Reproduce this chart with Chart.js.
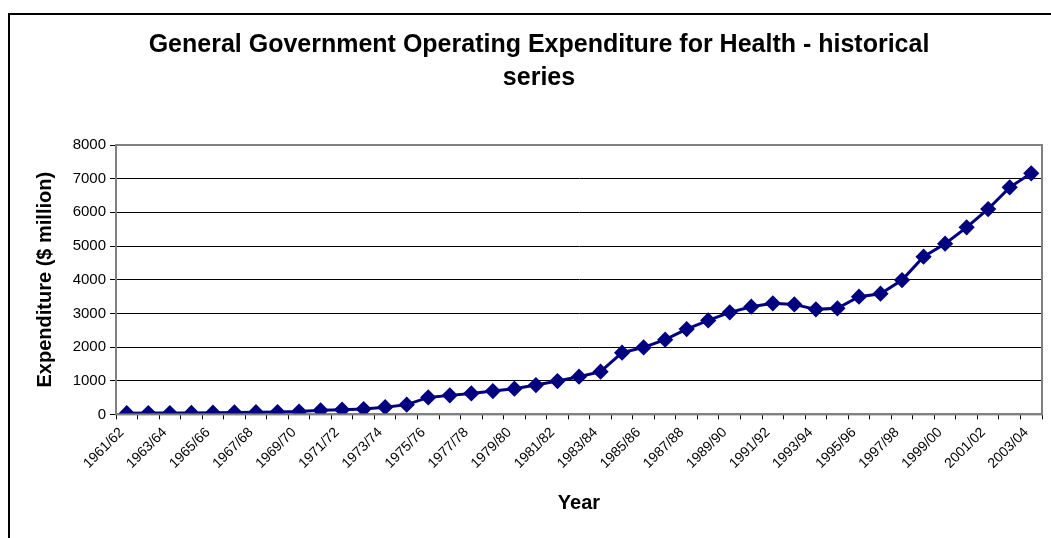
<!DOCTYPE html>
<html>
<head>
<meta charset="utf-8">
<script src="https://cdn.jsdelivr.net/npm/chart.js@4/dist/chart.umd.min.js"></script>
<style>
  html, body { margin: 0; padding: 0; background: #fff; overflow: hidden; }
  #wrap { position: relative; width: 1051px; height: 538px; }
  #frame { position: absolute; left: 8px; top: 13px; width: 1060px; height: 540px;
           border-left: 2px solid #000; border-top: 2px solid #000; box-sizing: border-box; }
  canvas { position: absolute; left: 0; top: 0; }
</style>
</head>
<body>
<div id="wrap">
  <div id="frame"></div>
  <canvas id="chart" width="1051" height="538"></canvas>
</div>
<script>
// years shown on the x axis (financial years)
const years = [
  "1961/62", "1962/63", "1963/64", "1964/65", "1965/66", "1966/67", "1967/68", "1968/69",
  "1969/70", "1970/71", "1971/72", "1972/73", "1973/74", "1974/75", "1975/76", "1976/77",
  "1977/78", "1978/79", "1979/80", "1980/81", "1981/82", "1982/83", "1983/84", "1984/85",
  "1985/86", "1986/87", "1987/88", "1988/89", "1989/90", "1990/91", "1991/92", "1992/93",
  "1993/94", "1994/95", "1995/96", "1996/97", "1997/98", "1998/99", "1999/00", "2000/01",
  "2001/02", "2002/03", "2003/04"
];

// expenditure, $ million
const expenditure = [
  35, 38, 40, 42, 50, 60, 65, 70,
  85, 120, 140, 160, 215, 290, 505, 565,
  624, 693, 762, 871, 990, 1119, 1267, 1832,
  1990, 2218, 2535, 2792, 3030, 3198, 3297, 3267,
  3119, 3149, 3495, 3584, 3990, 4683, 5069, 5554,
  6099, 6743, 7158
];

const yTicks = [0, 1000, 2000, 3000, 4000, 5000, 6000, 7000, 8000];

const titleLines = ["General Government Operating Expenditure for Health - historical", "series"];

// grey box round the plot area
const plotBorder = {
  id: "plotBorder",
  afterDraw(chart) {
    const a = chart.chartArea;
    const ctx = chart.ctx;
    ctx.save();
    ctx.strokeStyle = "#808080";
    ctx.lineWidth = 2;
    ctx.strokeRect(a.left, a.top, a.right - a.left, a.bottom - a.top);
    ctx.restore();
  }
};

Chart.defaults.font.family = "'Liberation Sans', Arial, sans-serif";
Chart.defaults.color = "#000";

new Chart(document.getElementById("chart"), {
  type: "line",
  data: {
    labels: years,
    datasets: [{
      label: "Expenditure",
      data: expenditure,
      borderColor: "#000080",
      backgroundColor: "#000080",
      borderWidth: 3,
      pointStyle: "rectRot",
      pointRadius: 6,
      pointHoverRadius: 6,
      tension: 0
    }]
  },
  options: {
    responsive: false,
    animation: false,
    layout: { padding: { left: 31, right: 4, top: 0, bottom: 21 } },
    plugins: {
      legend: { display: false },
      tooltip: { enabled: false },
      title: {
        display: true,
        text: titleLines,
        font: { size: 25, weight: "bold", lineHeight: 1.32 },
        color: "#000",
        padding: { top: 29, bottom: 50 }
      }
    },
    scales: {
      x: {
        offset: true,
        grid: { offset: true, drawOnChartArea: false, color: "#000", tickLength: 5 },
        border: { color: "#808080", width: 2 },
        ticks: {
          autoSkip: false,
          minRotation: 45,
          maxRotation: 45,
          padding: 5,
          labelOffset: -5,
          font: { size: 14 },
          callback: (v, i) => (i % 2 === 0 ? years[i] : "")
        },
        title: { display: true, text: "Year", font: { size: 20, weight: "bold" }, padding: { top: 2, bottom: 2 } },
        afterFit(scale) { scale.height = 102.6; }
      },
      y: {
        min: 0,
        max: 8000,
        afterBuildTicks(scale) { scale.ticks = yTicks.map(v => ({ value: v })); },
        grid: { color: "#000", lineWidth: 1, tickLength: 6 },
        border: { color: "#808080", width: 2 },
        ticks: { font: { size: 15 }, padding: 4, callback: v => String(v) },
        title: { display: true, text: "Expenditure ($ million)", font: { size: 20, weight: "bold" }, padding: { top: 2, bottom: 2 } },
        afterFit(scale) { scale.width = 85; }
      }
    }
  },
  plugins: [plotBorder]
});
</script>
</body>
</html>
